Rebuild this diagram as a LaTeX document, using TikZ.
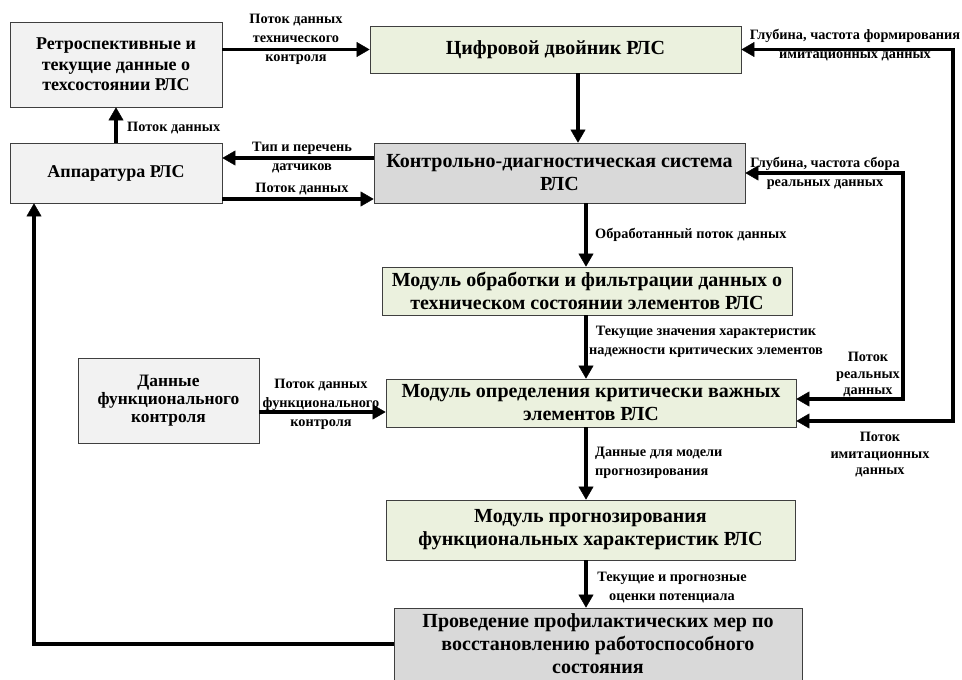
\documentclass[tikz,border=0pt]{standalone}
\usepackage{fontspec}
\setmainfont{Liberation Serif}
\usetikzlibrary{arrows.meta,calc}
\definecolor{boxgreen}{HTML}{EBF1DE}
\definecolor{boxgray}{HTML}{D9D9D9}
\definecolor{boxlight}{HTML}{F2F2F2}
\definecolor{edgecol}{HTML}{3F3F3F}
\newcommand\boxfont{\fontsize{20}{23}\selectfont\bfseries}
\newcommand\sideboxfont{\fontsize{18}{20.5}\selectfont\bfseries}
\newcommand\funcboxfont{\fontsize{17.4}{18}\selectfont\bfseries}
\newcommand\lblfont{\fontsize{14.3}{19}\selectfont\bfseries}
\newcommand\lblfontb{\fontsize{14.3}{16.5}\selectfont\bfseries}
\begin{document}
\begin{tikzpicture}[x=1pt,y=-1pt,
  box/.style={draw=edgecol, line width=0.8pt, inner sep=0pt, align=center, font=\boxfont},
  gbox/.style={box, fill=boxgreen},
  dbox/.style={box, fill=boxgray},
  lbox/.style={box, fill=boxlight, font=\sideboxfont},
  lbl/.style={inner sep=0pt, align=center, font=\lblfont},
  lblb/.style={inner sep=0pt, align=center, font=\lblfontb},
  arr/.style={line width=3.4pt, -{Triangle[length=13pt,width=15pt,line width=0.4pt]}},
  arrboth/.style={line width=3.4pt, {Triangle[length=13pt,width=15pt,line width=0.4pt]}-{Triangle[length=13pt,width=15pt,line width=0.4pt]}}
]
\useasboundingbox (0,0) rectangle (962,680);

% boxes
\node[lbox, minimum width=212pt, minimum height=85pt] (retro) at (116,64.5) {Ретроспективные  и\\текущие данные о\\техсостоянии РЛС};
\node[lbox, minimum width=212pt, minimum height=60pt] (app) at (116,173) {Аппаратура РЛС};
\node[gbox, minimum width=371pt, minimum height=47pt] (twin) at (555.5,49.5) {Цифровой двойник РЛС};
\node[dbox, minimum width=371pt, minimum height=60pt] (kds) at (559.5,173) {Контрольно-диагностическая система\\РЛС};
\node[gbox, minimum width=410pt, minimum height=48pt] (proc) at (587,291) {Модуль обработки и фильтрации данных о\\техническом состоянии элементов РЛС};
\node[gbox, minimum width=410pt, minimum height=48pt] (crit) at (591,403) {Модуль определения критически важных\\элементов РЛС};
\node[lbox, font=\funcboxfont, minimum width=181pt, minimum height=85pt] (func) at (168.5,400.5) {Данные\\функционального\\контроля};
\node[gbox, minimum width=409pt, minimum height=60pt] (prog) at (590.5,530) {Модуль прогнозирования\\функциональных характеристик РЛС};
\node[dbox, minimum width=408pt, minimum height=72pt] (prev) at (598,644) {Проведение профилактических мер по\\восстановлению работоспособного\\состояния};

% helper coordinates
\coordinate (v1) at (578,0);
\coordinate (v2) at (586,0);
\coordinate (r1) at (953,0);
\coordinate (r2) at (903,0);
\coordinate (l1) at (34,0);

% connectors
\draw[arr] (retro.east |- twin.west) -- (twin.west);
\draw[arr] (app.north) -- (retro.south);
\draw[arr] ($(kds.west)+(0,-15)$) coordinate (t1) -- (app.east |- t1);
\draw[arr] ($(app.east)+(0,26)$) coordinate (t2) -- (kds.west |- t2);
\draw[arr] (twin.south -| v1) -- (kds.north -| v1);
\draw[arr] (kds.south -| v2) -- (proc.north -| v2);
\draw[arr] (proc.south -| v2) -- (crit.north -| v2);
\draw[arr] (crit.south -| v2) -- (prog.north -| v2);
\draw[arr] (prog.south -| v2) -- (prev.north -| v2);
\draw[arr] ($(func.east)+(0,11.5)$) coordinate (t3) -- (crit.west |- t3);
\draw[arrboth] ($(crit.east)+(0,18)$) -| (r1 |- twin.east) -- (twin.east);
\draw[arrboth] ($(crit.east)+(0,-4)$) -| (r2 |- kds.east) -- (kds.east);
\draw[arr] (prev.west) -| (l1 |- app.south);

% labels
\node[lbl] (L1) at (296,39) {Поток данных\\технического\\контроля};
\node[lbl, anchor=west] (L2) at (127,128) {Поток данных};
\node[lbl] (L3) at (302,157.5) {Тип и перечень\\датчиков};
\node[lbl] (L4) at (302,189) {Поток данных};
\node[lbl, anchor=west] (L5) at (595,235) {Обработанный поток данных};
\node[lbl] (L6) at (706,342) {Текущие значения характеристик\\надежности критических элементов};
\node[lbl, anchor=west, align=left] (L7) at (595,462.5) {Данные для модели\\прогнозирования};
\node[lbl] (L8) at (672,588) {Текущие  и прогнозные\\оценки  потенциала};
\node[lbl] (L9) at (321,404) {Поток данных\\функционального\\контроля};
\node[lbl] (L10) at (855,45) {Глубина, частота формирования\\имитационных  данных};
\node[lbl] (L11) at (825,173.5) {Глубина, частота сбора\\реальных данных};
\node[lblb] (L12) at (868,375) {Поток\\реальных\\данных};
\node[lblb] (L13) at (880,455) {Поток\\имитационных\\данных};
\end{tikzpicture}
\end{document}
